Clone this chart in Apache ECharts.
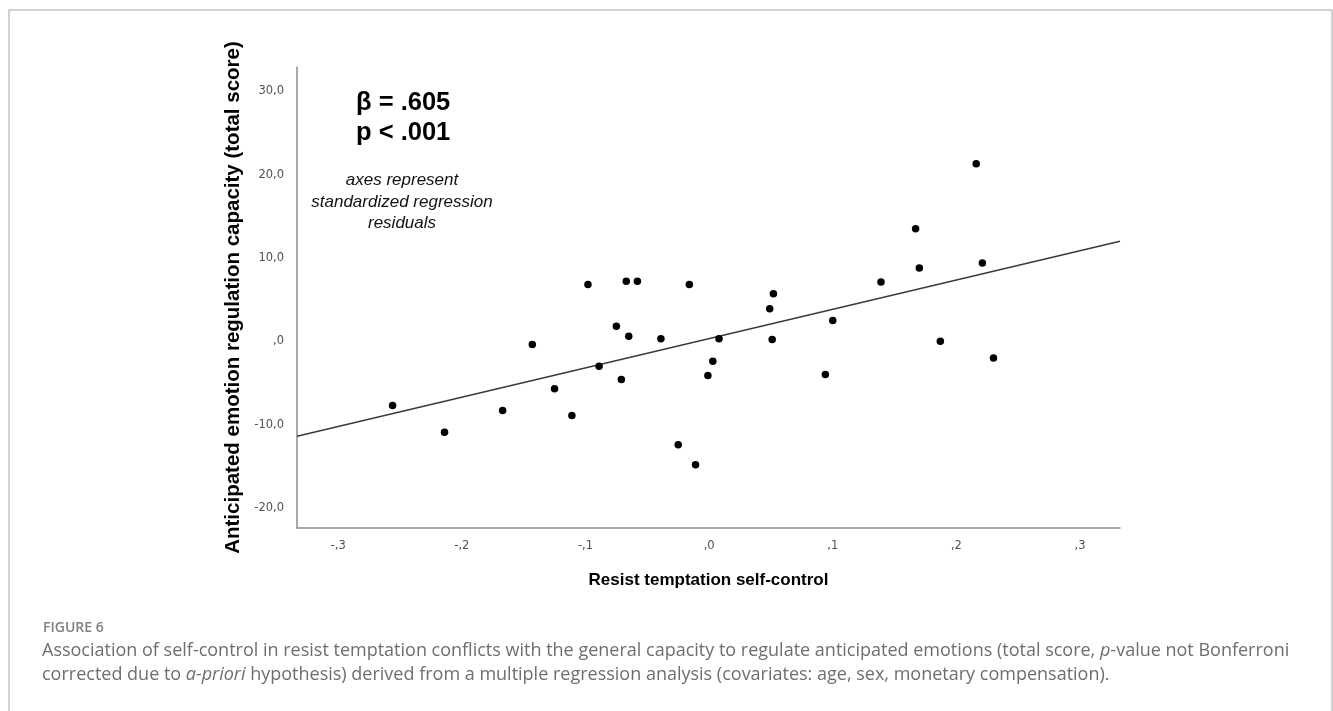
<!DOCTYPE html>
<html>
<head>
<meta charset="utf-8">
<title>Resist temptation self-control vs. anticipated emotion regulation</title>
<script src="https://cdn.jsdelivr.net/npm/echarts@6/dist/echarts.min.js"></script>
<style>
  html, body { margin: 0; padding: 0; background: #fff; }
  #chart { width: 1333px; height: 711px; }
</style>
</head>
<body>
<div id="chart"></div>
<script>
// Standardized regression residuals: resist temptation self-control (x)
const selfControl = [
  -0.256, -0.214, -0.167, -0.143, -0.125, -0.111, -0.098, -0.089,
  -0.075, -0.071, -0.067, -0.065, -0.058, -0.039, -0.025, -0.016,
  -0.011, -0.001, 0.003, 0.008, 0.049, 0.052, 0.051, 0.094,
  0.100, 0.139, 0.167, 0.170, 0.187, 0.216, 0.221, 0.230
];
// Anticipated emotion regulation capacity, total score residuals (y)
const regulation = [
  -7.7, -10.9, -8.3, -0.4, -5.7, -8.9, 6.8, -3.0,
  1.8, -4.6, 7.2, 0.6, 7.2, 0.3, -12.4, 6.8,
  -14.8, -4.1, -2.4, 0.3, 3.9, 5.7, 0.2, -4.0,
  2.5, 7.1, 13.5, 8.8, 0.0, 21.3, 9.4, -2.0
];
// Fitted regression line, evaluated at the ends of the x range
const fitX = [-0.3333, 0.3323];
const fitY = [-11.4, 12.0];

// Axis ranges and tick labels
const xRange = [-0.3333, 0.3323];
const yRange = [-22.4, 32.9];
const xTickValues = [-0.3, -0.2, -0.1, 0, 0.1, 0.2, 0.3];
const xTickLabels = ['-,3', '-,2', '-,1', ',0', ',1', ',2', ',3'];
const yTickValues = [-20, -10, 0, 10, 20, 30];
const yTickLabels = ['-20,0', '-10,0', ',0', '10,0', '20,0', '30,0'];

const points = selfControl.map((x, i) => [x, regulation[i]]);
const fitLine = fitX.map((x, i) => [x, fitY[i]]);

function tickLabel(values, labels) {
  return function (v) {
    for (let i = 0; i < values.length; i++) {
      if (Math.abs(values[i] - v) < 1e-6) return labels[i];
    }
    return '';
  };
}

const plotFont = '"Liberation Sans", Arial, sans-serif';
const tickFont = '"DejaVu Sans", Verdana, sans-serif';
const captionFont = '"Open Sans", "Noto Sans", sans-serif';

const chart = echarts.init(document.getElementById('chart'), null, { renderer: 'canvas' });

chart.setOption({
  backgroundColor: '#ffffff',
  animation: false,
  grid: { left: 297, right: 213, top: 67, bottom: 183, containLabel: false },
  xAxis: {
    type: 'value',
    min: xRange[0],
    max: xRange[1],
    name: 'Resist temptation self-control',
    nameLocation: 'middle',
    nameGap: 44,
    nameTextStyle: { fontFamily: plotFont, fontWeight: 'bold', fontSize: 17, color: '#000' },
    axisLine: { show: true, onZero: false, lineStyle: { color: '#8c8c8c', width: 1.5 } },
    axisTick: { show: false },
    splitLine: { show: false },
    axisLabel: {
      customValues: xTickValues,
      formatter: tickLabel(xTickValues, xTickLabels),
      fontFamily: tickFont,
      fontSize: 11.5,
      color: '#505050',
      margin: 12
    }
  },
  yAxis: {
    type: 'value',
    min: yRange[0],
    max: yRange[1],
    name: 'Anticipated emotion regulation capacity (total score)',
    nameLocation: 'middle',
    nameGap: 45,
    nameTextStyle: { fontFamily: plotFont, fontWeight: 'bold', fontSize: 20.5, color: '#000' },
    axisLine: { show: true, onZero: false, lineStyle: { color: '#8c8c8c', width: 1.5 } },
    axisTick: { show: false },
    splitLine: { show: false },
    axisLabel: {
      customValues: yTickValues,
      formatter: tickLabel(yTickValues, yTickLabels),
      fontFamily: tickFont,
      fontSize: 11.5,
      color: '#505050',
      margin: 13
    }
  },
  series: [
    {
      type: 'line',
      data: fitLine,
      symbol: 'none',
      silent: true,
      lineStyle: { color: '#3a3a3a', width: 1.4 },
      z: 2
    },
    {
      type: 'scatter',
      data: points,
      symbol: 'circle',
      symbolSize: 7.5,
      itemStyle: { color: '#000', opacity: 1 },
      z: 3
    }
  ],
  graphic: [
    // figure frame
    {
      type: 'rect',
      shape: { x: 9, y: 10, width: 1323, height: 720 },
      style: { fill: 'none', stroke: '#c4c4c4', lineWidth: 1.5 },
      silent: true
    },
    // statistics annotation
    {
      type: 'text', x: 356, y: 103,
      style: { text: 'β = .605', fontFamily: plotFont, fontWeight: 'bold', fontSize: 25.5,
               fill: '#000', verticalAlign: 'middle' }
    },
    {
      type: 'text', x: 356, y: 133,
      style: { text: 'p < .001', fontFamily: plotFont, fontWeight: 'bold', fontSize: 25.5,
               fill: '#000', verticalAlign: 'middle' }
    },
    {
      type: 'text', x: 402, y: 180,
      style: { text: 'axes represent', fontFamily: plotFont, fontStyle: 'italic', fontSize: 17,
               fill: '#111', align: 'center', verticalAlign: 'middle' }
    },
    {
      type: 'text', x: 402, y: 202,
      style: { text: 'standardized regression', fontFamily: plotFont, fontStyle: 'italic', fontSize: 17,
               fill: '#111', align: 'center', verticalAlign: 'middle' }
    },
    {
      type: 'text', x: 402, y: 223,
      style: { text: 'residuals', fontFamily: plotFont, fontStyle: 'italic', fontSize: 17,
               fill: '#111', align: 'center', verticalAlign: 'middle' }
    },
    // caption
    {
      type: 'text', x: 43, y: 628,
      style: { text: 'FIGURE 6', fontFamily: captionFont, fontWeight: 600, fontSize: 14,
               fill: '#808080', verticalAlign: 'middle' }
    },
    {
      type: 'text', x: 42, y: 651,
      style: {
        text: 'Association of self-control in resist temptation conflicts with the general capacity to regulate anticipated emotions (total score, {i|p}-value not Bonferroni',
        fontFamily: captionFont, fontSize: 18, fill: '#6e6e6e', verticalAlign: 'middle',
        rich: { i: { fontFamily: captionFont, fontStyle: 'italic', fontSize: 18, fill: '#6e6e6e' } }
      }
    },
    {
      type: 'text', x: 42, y: 675,
      style: {
        text: 'corrected due to {i|a-priori} hypothesis) derived from a multiple regression analysis (covariates: age, sex, monetary compensation).',
        fontFamily: captionFont, fontSize: 18, fill: '#6e6e6e', verticalAlign: 'middle',
        rich: { i: { fontFamily: captionFont, fontStyle: 'italic', fontSize: 18, fill: '#6e6e6e' } }
      }
    }
  ]
});
</script>
</body>
</html>
